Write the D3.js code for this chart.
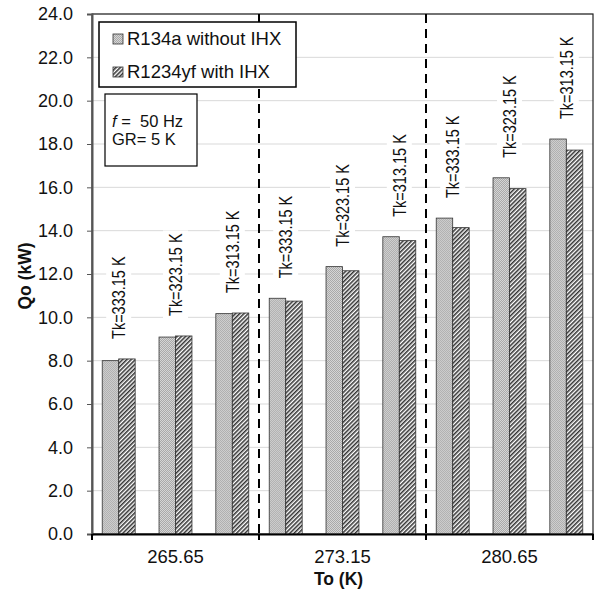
<!doctype html>
<html>
<head>
<meta charset="utf-8">
<style>
  body { margin: 0; background: #fff; }
  svg { font-family: "Liberation Sans", Arial, sans-serif; }
</style>
</head>
<body>
<div id="chart"></div>
<script src="https://d3js.org/d3.v7.min.js"></script>
<script>
// data
const groups = ["265.65", "273.15", "280.65"];
const tkLabels = ["Tk=333.15 K", "Tk=323.15 K", "Tk=313.15 K"];
const seriesNames = ["R134a without IHX", "R1234yf with IHX"];
const r134a   = [8.00, 9.09, 10.17, 10.88, 12.34, 13.72, 14.58, 16.44, 18.23];
const r1234yf = [8.08, 9.14, 10.20, 10.75, 12.15, 13.54, 14.14, 15.94, 17.72];
const yTicks = [0, 2, 4, 6, 8, 10, 12, 14, 16, 18, 20, 22, 24];

var W = 596, H = 596;
var margin = {top: 14, right: 3, bottom: 62, left: 92};
var width = W - margin.left - margin.right,
    height = H - margin.top - margin.bottom;

var svg = d3.select("#chart").append("svg")
  .attr("width", W).attr("height", H);

// patterns
var defs = svg.append("defs");
var pg = defs.append("pattern").attr("id", "gray").attr("patternUnits", "userSpaceOnUse")
  .attr("width", 2).attr("height", 2);
pg.append("rect").attr("width", 2).attr("height", 2).attr("fill", "#d6d6d6");
pg.append("rect").attr("width", 1).attr("height", 1).attr("fill", "#a8a8a8");
pg.append("rect").attr("x", 1).attr("y", 1).attr("width", 1).attr("height", 1).attr("fill", "#a8a8a8");

var ph = defs.append("pattern").attr("id", "hatch").attr("patternUnits", "userSpaceOnUse")
  .attr("width", 3).attr("height", 3).attr("patternTransform", "rotate(45)");
ph.append("rect").attr("width", 3).attr("height", 3).attr("fill", "#fff");
ph.append("line").attr("x1", 0.8).attr("y1", 0).attr("x2", 0.8).attr("y2", 3)
  .attr("stroke", "#2a2a2a").attr("stroke-width", 1.5);

var g = svg.append("g").attr("transform", "translate(" + margin.left + "," + margin.top + ")");

var y = d3.scaleLinear().domain([0, 24]).range([height, 0]);
var x0 = d3.scaleBand().domain(groups).range([0, width]);
var x1 = d3.scaleBand().domain(tkLabels).range([0, x0.bandwidth()])
  .paddingInner(0.42).paddingOuter(0.18);
var x2 = d3.scaleBand().domain(seriesNames).range([0, x1.bandwidth()]);

// gridlines
g.append("g").selectAll("line").data(yTicks.slice(1)).enter().append("line")
  .attr("x1", 0).attr("x2", width)
  .attr("y1", d => y(d)).attr("y2", d => y(d))
  .attr("stroke", "#d9d9d9").attr("stroke-width", 1);

// plot border
g.append("rect").attr("width", width).attr("height", height)
  .attr("fill", "none").attr("stroke", "#222").attr("stroke-width", 1.2);

// dashed separators
g.append("g").selectAll("line").data(groups.slice(1)).enter().append("line")
  .attr("x1", d => x0(d)).attr("x2", d => x0(d))
  .attr("y1", 0).attr("y2", height)
  .attr("stroke", "#000").attr("stroke-width", 2)
  .attr("stroke-dasharray", "9,6");

// bars
var rows = [];
groups.forEach(function(gr, i) {
  tkLabels.forEach(function(tk, j) {
    var k = i * 3 + j;
    rows.push({group: gr, tk: tk, vals: [r134a[k], r1234yf[k]]});
  });
});

var pair = g.append("g").selectAll("g").data(rows).enter().append("g")
  .attr("transform", d => "translate(" + (x0(d.group) + x1(d.tk)) + ",0)");

pair.selectAll("rect").data(d => d.vals.map((v, s) => ({v: v, s: s}))).enter().append("rect")
  .attr("x", d => x2(seriesNames[d.s]))
  .attr("y", d => y(d.v))
  .attr("width", x2.bandwidth())
  .attr("height", d => height - y(d.v))
  .attr("fill", d => d.s === 0 ? "url(#gray)" : "url(#hatch)")
  .attr("stroke", "#333").attr("stroke-width", 0.8);

// Tk labels with white background
pair.each(function(d) {
  var el = d3.select(this);
  var cx = x1.bandwidth() / 2;
  var y0 = y(d3.max(d.vals)) - 20;
  var bg = el.append("rect").attr("fill", "#fff");
  var t = el.append("text")
    .attr("transform", "translate(" + cx + "," + y0 + ") rotate(-90) scale(1,1.22)")
    .attr("dy", "0.36em")
    .style("font-size", "14.5px")
    .attr("fill", "#111")
    .text(d.tk);
  var len = t.node().getComputedTextLength();
  bg.attr("x", cx - 12.5).attr("y", y0 - len - 3).attr("width", 25).attr("height", len + 6);
});

// y axis
var yAxis = g.append("g")
  .call(d3.axisLeft(y).tickValues(yTicks).tickSize(5).tickFormat(d3.format(".1f")));
yAxis.select(".domain").attr("stroke", "#555").attr("stroke-width", 2);
yAxis.selectAll(".tick line").attr("stroke", "#555");
yAxis.selectAll("text").attr("x", -19).style("font-size", "18px").attr("fill", "#111")
  .style("font-family", "'Liberation Sans', Arial, sans-serif");

// x axis
var xAxis = g.append("g").attr("transform", "translate(0," + height + ")")
  .call(d3.axisBottom(x0).tickSize(0).tickFormat(""));
xAxis.select(".domain").attr("stroke", "#000").attr("stroke-width", 2);
xAxis.selectAll(".sep").data(groups.concat(["end"])).enter().append("line")
  .attr("x1", (d, i) => i < groups.length ? x0(d) : width)
  .attr("x2", (d, i) => i < groups.length ? x0(d) : width)
  .attr("y1", 0).attr("y2", 6)
  .attr("stroke", "#000").attr("stroke-width", 2);
xAxis.selectAll(".lab").data(groups).enter().append("text")
  .attr("x", d => x0(d) + x0.bandwidth() / 2)
  .attr("y", 29)
  .attr("text-anchor", "middle")
  .style("font-size", "18.5px").attr("fill", "#111")
  .text(d => d);

// axis titles
svg.append("text")
  .attr("x", margin.left + width / 2 - 4).attr("y", 585)
  .attr("text-anchor", "middle")
  .style("font-size", "17.5px").style("font-weight", "bold").attr("fill", "#111")
  .text("To (K)");
svg.append("text")
  .attr("transform", "translate(31," + (margin.top + height / 2 + 2) + ") rotate(-90)")
  .attr("text-anchor", "middle")
  .style("font-size", "17.5px").style("font-weight", "bold").attr("fill", "#111")
  .text("Qo (kW)");

// legend
var lg = svg.append("g");
lg.append("rect").attr("x", 99).attr("y", 22).attr("width", 197).attr("height", 65)
  .attr("fill", "#fff").attr("stroke", "#000").attr("stroke-width", 1.5);
seriesNames.forEach(function(n, i) {
  var cy = 39 + i * 33;
  lg.append("rect").attr("x", 113).attr("y", cy - 5).attr("width", 10).attr("height", 10)
    .attr("fill", i === 0 ? "url(#gray)" : "url(#hatch)")
    .attr("stroke", "#333").attr("stroke-width", 0.8);
  lg.append("text").attr("x", 127).attr("y", cy).attr("dy", "0.35em")
    .style("font-size", "18.5px").attr("fill", "#111").text(n);
});

// conditions box
var cb = svg.append("g");
cb.append("rect").attr("x", 105).attr("y", 94).attr("width", 92).attr("height", 72)
  .attr("fill", "#fff").attr("stroke", "#000").attr("stroke-width", 1.2);
var t1 = cb.append("text").attr("x", 112).attr("y", 127)
  .style("font-size", "16.5px").attr("fill", "#111").attr("xml:space", "preserve");
t1.append("tspan").style("font-style", "italic").text("f");
t1.append("tspan").text(" =  50 Hz");
cb.append("text").attr("x", 112).attr("y", 145)
  .style("font-size", "16.5px").attr("fill", "#111").text("GR= 5 K");
</script>
</body>
</html>
